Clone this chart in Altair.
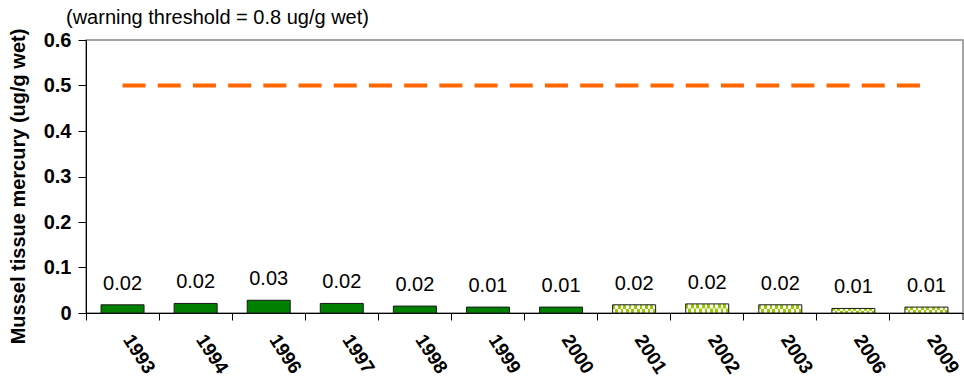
import altair as alt
import pandas as pd

years = ["1993", "1994", "1996", "1997", "1998", "1999", "2000",
         "2001", "2002", "2003", "2006", "2009"]
values = [0.018, 0.021, 0.028, 0.021, 0.0152, 0.013, 0.013,
          0.018, 0.020, 0.018, 0.010, 0.013]
groups = ["solid"] * 7 + ["checked"] * 5
threshold_value = 0.5
header = "(warning threshold = 0.8 ug/g wet)"
y_title = "Mussel tissue mercury (ug/g wet)"
y_ticks = [0, 0.1, 0.2, 0.3, 0.4, 0.5, 0.6]

df = pd.DataFrame({"year": years, "value": values, "group": groups})
df_thr = pd.DataFrame({"start": [years[0]], "end": [years[-1]], "value": [threshold_value]})
df_head = pd.DataFrame({"t": [header]})
df_end = pd.DataFrame({"year": [years[-1]]})

FONT = "Liberation Sans"
W, H = 877, 273
TICK = 7

xscale = alt.Scale(domain=years, paddingInner=0, paddingOuter=0)
xaxis = alt.Axis(title=None, bandPosition=0, labelOffset=5,
                 labelAngle=57, labelAlign="left", labelBaseline="middle",
                 labelFontWeight="bold", labelFontSize=19, labelFont=FONT,
                 labelColor="black", tickSize=TICK, tickColor="black",
                 domainColor="black", labelPadding=16, grid=False)
yaxis = alt.Axis(title=y_title, values=y_ticks, format=".1~f",
                 labelFontWeight="bold", labelFontSize=20, labelFont=FONT,
                 labelColor="black", titleFont=FONT, titleFontSize=20,
                 titleFontWeight="bold", titleColor="black", tickSize=8,
                 tickColor="black", domainColor="black", labelPadding=7,
                 titlePadding=15, titleY=146, grid=False)

x = alt.X("year:N", scale=xscale, axis=xaxis, sort=years)
y = alt.Y("value:Q", scale=alt.Scale(domain=[0, 0.6]), axis=yaxis)


def stripes(phase, n=16):
    st = []
    for i in range(n):
        c = "#99CC00" if (i + phase) % 2 == 0 else "#FFFFFF"
        st.append(alt.GradientStop(offset=i / n, color=c))
        st.append(alt.GradientStop(offset=(i + 1) / n, color=c))
    return alt.LinearGradient(gradient="linear", stops=st, x1=0, x2=1, y1=0, y2=0)


base = alt.Chart(df)
solid = base.transform_filter(alt.datum.group == "solid").mark_bar(
    size=43, color="#008000", stroke="#1a1a1a", strokeWidth=1).encode(x=x, y=y)
chk = base.transform_filter(alt.datum.group == "checked")
checked_top = chk.mark_bar(size=43, color=stripes(0), strokeWidth=0).encode(x=x, y=y)
checked_bot = chk.transform_calculate(half="datum.value / 2").mark_bar(
    size=43, color=stripes(1), strokeWidth=0).encode(
    x=x, y=alt.Y("half:Q", scale=alt.Scale(domain=[0, 0.6])))
checked_outline = chk.mark_bar(size=43, filled=False, stroke="#1a1a1a",
                               strokeWidth=1).encode(x=x, y=y)
labels = base.mark_text(dy=-15, baseline="alphabetic", fontSize=20, font=FONT,
                        color="black").encode(
    x=x, y=y, text=alt.Text("value:Q", format=".2f"))
thr = alt.Chart(df_thr).mark_rule(color="#FF6600", strokeWidth=4,
                                  strokeDash=[23, 12.2]).encode(
    x=alt.X("start:N", scale=xscale, sort=years), x2="end:N", y="value:Q")
end_tick = alt.Chart(df_end).mark_rule(color="black", strokeWidth=1).encode(
    x=alt.X("year:N", scale=xscale, sort=years, bandPosition=1),
    y=alt.value(H), y2=alt.value(H + TICK))
head = alt.Chart(df_head).mark_text(align="left", baseline="alphabetic",
                                    fontSize=20, font=FONT, color="black").encode(
    x=alt.value(-20), y=alt.value(-16), text="t:N")

chart = alt.layer(solid, checked_top, checked_bot, checked_outline, labels,
                  thr, end_tick, head).properties(
    width=W, height=H,
    padding={"left": 86, "top": 40, "right": 1, "bottom": 70},
    autosize=alt.AutoSizeParams(type="none"),
).configure_view(stroke="#888888", strokeWidth=1.5)

chart.save("out.html", embed_options={"renderer": "svg", "actions": False})
